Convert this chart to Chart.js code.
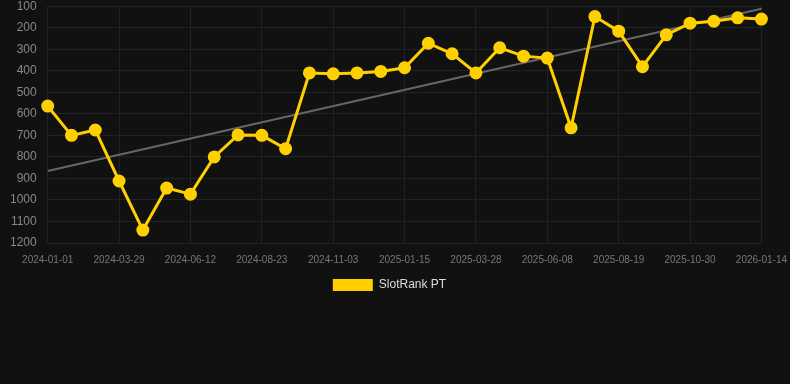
<!DOCTYPE html>
<html>
<head>
<meta charset="utf-8">
<script src="https://cdn.jsdelivr.net/npm/chart.js@4/dist/chart.umd.min.js"></script>
<style>
html,body{margin:0;padding:0;background:#111111;overflow:hidden;width:790px;height:384px;}
#wrap{position:absolute;left:-1px;top:-12px;width:799px;height:313px;}
</style>
</head>
<body>
<div id="wrap"><canvas id="c"></canvas></div>
<script>
const dates = [
  "2024-01-01","2024-01-30","2024-02-28","2024-03-29","2024-04-23","2024-05-18",
  "2024-06-12","2024-07-06","2024-07-30","2024-08-23","2024-09-16","2024-10-10",
  "2024-11-03","2024-11-27","2024-12-22","2025-01-15","2025-02-08","2025-03-04",
  "2025-03-28","2025-04-21","2025-05-15","2025-06-08","2025-07-02","2025-07-26",
  "2025-08-19","2025-09-12","2025-10-06","2025-10-30","2025-11-24","2025-12-20",
  "2026-01-14"
];
const rankValues = [
  564, 700, 675, 912, 1140, 945,
  973, 800, 698, 700, 762, 410,
  414, 410, 403, 386, 272, 321,
  410, 293, 332, 341, 665, 148,
  216, 381, 233, 179, 170, 154,
  160
];
const trendStart = 866;
const trendEnd = 112;
const yTicks = [100,200,300,400,500,600,700,800,900,1000,1100,1200];

const trendData = dates.map((d, i) => i === 0 ? trendStart : (i === dates.length - 1 ? trendEnd : null));

new Chart(document.getElementById('c'), {
  type: 'line',
  data: {
    labels: dates,
    datasets: [
      {
        label: 'SlotRank PT',
        data: rankValues,
        borderColor: '#FFD000',
        backgroundColor: '#FFD000',
        borderWidth: 3,
        pointRadius: 5,
        pointHoverRadius: 5,
        pointBackgroundColor: '#FFD000',
        pointBorderColor: '#FFD000',
        tension: 0,
        order: 1
      },
      {
        label: 'trend',
        data: trendData,
        spanGaps: true,
        borderColor: '#666666',
        backgroundColor: '#666666',
        borderWidth: 2,
        pointRadius: 0,
        tension: 0,
        order: 2
      }
    ]
  },
  options: {
    responsive: true,
    maintainAspectRatio: false,
    animation: false,
    layout: { padding: { right: 18 } },
    plugins: {
      legend: {
        position: 'bottom',
        labels: {
          color: '#dddddd',
          font: { family: 'Liberation Sans, Arial, sans-serif', size: 12 },
          boxWidth: 40,
          boxHeight: 12,
          padding: 6,
          filter: (item) => item.text !== 'trend',
          generateLabels: (chart) => Chart.defaults.plugins.legend.labels.generateLabels(chart)
            .map(it => Object.assign(it, { lineWidth: 0, strokeStyle: 'rgba(0,0,0,0)' }))
        }
      },
      tooltip: { enabled: false }
    },
    scales: {
      x: {
        grid: { color: '#222222', drawTicks: false },
        border: { display: false },
        afterFit: (axis) => { axis.height -= 4; },
        ticks: {
          color: '#777777',
          font: { family: 'Liberation Sans, Arial, sans-serif', size: 10 },
          maxRotation: 0,
          autoSkip: true,
          padding: 11
        }
      },
      y: {
        reverse: true,
        min: 100,
        max: 1200,
        afterBuildTicks: (axis) => { axis.ticks = yTicks.map(v => ({ value: v })); },
        grid: { color: '#222222', drawTicks: false },
        border: { display: false },
        ticks: {
          color: '#888888',
          font: { family: 'Liberation Sans, Arial, sans-serif', size: 12 },
          padding: 11,
          callback: (v) => String(v)
        }
      }
    }
  }
});
</script>
</body>
</html>
